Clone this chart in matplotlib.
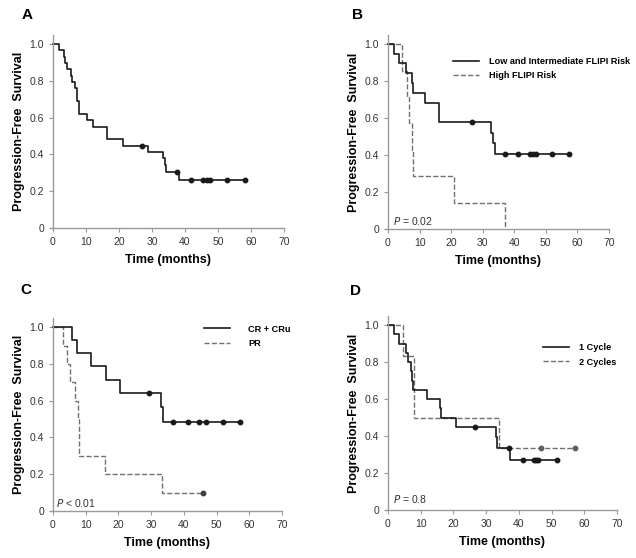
import matplotlib
matplotlib.use("Agg")
import matplotlib.pyplot as plt

plt.rcParams['font.family'] = ['Liberation Sans', 'DejaVu Sans']

# panel A - all patients
a_time = [0, 1.8, 3.2, 3.7, 4.3, 5.4, 5.9, 6.6, 7.2, 7.8, 10.3, 12.1, 16.5, 21.2, 28.7, 33.3, 34.0, 34.4, 38.2, 58.2]
a_surv = [1.0, 0.966, 0.931, 0.897, 0.862, 0.828, 0.793, 0.759, 0.690, 0.621, 0.586, 0.552, 0.483, 0.448, 0.414, 0.379, 0.345, 0.302, 0.259, 0.259]
a_cens_t = [27.0, 37.7, 41.9, 45.6, 46.8, 47.7, 52.8, 58.2]
a_cens_s = [0.448, 0.302, 0.259, 0.259, 0.259, 0.259, 0.259, 0.259]

# panel B - FLIPI risk
b1_time = [0, 1.8, 3.4, 5.6, 7.5, 8.0, 11.8, 16.1, 16.3, 32.7, 33.4, 34.0, 57.2]
b1_surv = [1.0, 0.947, 0.895, 0.842, 0.789, 0.737, 0.684, 0.632, 0.579, 0.521, 0.463, 0.405, 0.405]
b1_cens_t = [26.6, 37.2, 41.3, 44.9, 45.9, 47.0, 52.0, 57.2]
b1_cens_s = [0.579, 0.405, 0.405, 0.405, 0.405, 0.405, 0.405, 0.405]
b2_time = [0, 4.5, 6.0, 6.7, 7.5, 8.0, 20.9, 37.2]
b2_surv = [1.0, 0.857, 0.714, 0.571, 0.429, 0.286, 0.143, 0.0]

# panel C - response
c1_time = [0, 5.9, 7.2, 11.7, 16.1, 20.6, 32.9, 33.7, 57.2]
c1_surv = [1.0, 0.929, 0.857, 0.786, 0.714, 0.643, 0.563, 0.482, 0.482]
c1_cens_t = [29.3, 36.8, 41.2, 44.7, 46.8, 51.9, 57.2]
c1_cens_s = [0.643, 0.482, 0.482, 0.482, 0.482, 0.482, 0.482]
c2_time = [0, 3.1, 4.3, 5.3, 6.6, 7.7, 8.0, 16.0, 33.2, 46.0]
c2_surv = [1.0, 0.9, 0.8, 0.7, 0.6, 0.5, 0.3, 0.2, 0.1, 0.1]
c2_cens_t = [46.0]
c2_cens_s = [0.1]

# panel D - cycles
d1_time = [0, 1.9, 3.4, 5.5, 6.2, 6.9, 7.3, 7.6, 11.8, 16.0, 16.2, 20.8, 33.0, 33.2, 37.3, 51.8]
d1_surv = [1.0, 0.95, 0.9, 0.85, 0.8, 0.75, 0.7, 0.65, 0.6, 0.55, 0.5, 0.45, 0.393, 0.337, 0.271, 0.271]
d1_cens_t = [26.6, 36.9, 41.2, 44.7, 45.3, 46.0, 51.8]
d1_cens_s = [0.45, 0.337, 0.271, 0.271, 0.271, 0.271, 0.271]
d2_time = [0, 4.6, 8.1, 34.0, 57.2]
d2_surv = [1.0, 0.833, 0.5, 0.333, 0.333]
d2_cens_t = [46.8, 57.2]
d2_cens_s = [0.333, 0.333]

ytick_vals = [0, 0.2, 0.4, 0.6, 0.8, 1.0]
ytick_labels = ['0', '0.2', '0.4', '0.6', '0.8', '1.0']
xtick_vals = [0, 10, 20, 30, 40, 50, 60, 70]

SOLID = '#1a1a1a'
DASH = '#707070'
AXC = '#9a9a9a'
TXT = '#333333'


def setup(ax, letter, lx, ly):
    ax.set_xlim(0, 70)
    ax.set_ylim(0, 1.05)
    for s in ['top', 'right']:
        ax.spines[s].set_visible(False)
    for s in ['left', 'bottom']:
        ax.spines[s].set_color(AXC)
        ax.spines[s].set_linewidth(1.0)
    ax.spines['bottom'].set_bounds(-1, 70)
    ax.set_xticks(xtick_vals)
    ax.set_yticks(ytick_vals)
    ax.set_yticklabels(ytick_labels)
    ax.tick_params(colors=AXC, labelcolor=TXT, labelsize=7.5, length=3, width=0.8)
    ax.set_xlabel('Time (months)', fontsize=9, fontweight='bold', labelpad=5)
    ax.set_ylabel('Progression-Free  Survival', fontsize=9, fontweight='bold', labelpad=3)
    fig.text(lx, ly, letter, fontsize=11, fontweight='bold', ha='left', va='center')


def km(ax, t, s, color, ls, lw=1.2, label=None):
    ax.step(t, s, where='post', color=color, linestyle=ls, linewidth=lw, label=label, clip_on=False)


def cens(ax, t, s, color):
    ax.plot(t, s, 'o', color=color, markersize=3.2, linestyle='none', clip_on=False)


fig = plt.figure(figsize=(6.36, 5.58), dpi=100)

axA = fig.add_axes([0.0833, 0.5914, 0.363, 0.346])
axB = fig.add_axes([0.610, 0.5896, 0.3475, 0.348])
axC = fig.add_axes([0.0833, 0.0842, 0.360, 0.346])
axD = fig.add_axes([0.610, 0.086, 0.360, 0.348])

# A
setup(axA, 'A', 22 / 636, 1 - 15 / 558)
km(axA, a_time, a_surv, SOLID, '-')
cens(axA, a_cens_t, a_cens_s, SOLID)

# B
setup(axB, 'B', 352 / 636, 1 - 15 / 558)
km(axB, b2_time, b2_surv, DASH, '--', 1.0, 'High FLIPI Risk')
km(axB, b1_time, b1_surv, SOLID, '-', 1.2, 'Low and Intermediate FLIPI Risk')
cens(axB, b1_cens_t, b1_cens_s, SOLID)
axB.text(1.5, 0.02, '$\\it{P}$ = 0.02', fontsize=7.5, color=TXT)

# C
setup(axC, 'C', 20 / 636, 1 - 290 / 558)
km(axC, c2_time, c2_surv, DASH, '--', 1.0, 'PR')
km(axC, c1_time, c1_surv, SOLID, '-', 1.2, 'CR + CRu')
cens(axC, c1_cens_t, c1_cens_s, SOLID)
cens(axC, c2_cens_t, c2_cens_s, '#404040')
axC.text(1.0, 0.02, '$\\it{P}$ < 0.01', fontsize=7.5, color=TXT)

# D
setup(axD, 'D', 350 / 636, 1 - 291 / 558)
km(axD, d2_time, d2_surv, DASH, '--', 1.0, '2 Cycles')
km(axD, d1_time, d1_surv, SOLID, '-', 1.2, '1 Cycle')
cens(axD, d2_cens_t, d2_cens_s, '#606060')
cens(axD, d1_cens_t, d1_cens_s, SOLID)
axD.text(1.5, 0.04, '$\\it{P}$ = 0.8', fontsize=7.5, color=TXT)

# legend placement: (axes, anchor, gap between line and text)
for ax, bbox, pad in [(axB, (0.294, 0.887), 1.1), (axC, (0.66, 0.966), 2.0), (axD, (0.677, 0.86), 1.1)]:
    h, l = ax.get_legend_handles_labels()
    leg = ax.legend(h[::-1], l[::-1], loc='upper left', bbox_to_anchor=bbox, frameon=False,
                    fontsize=6.6, handlelength=2.8, handletextpad=pad, labelspacing=0.62,
                    borderaxespad=0, borderpad=0)
    for txt in leg.get_texts():
        txt.set_fontweight('bold')

fig.savefig('out.png', dpi=100)
